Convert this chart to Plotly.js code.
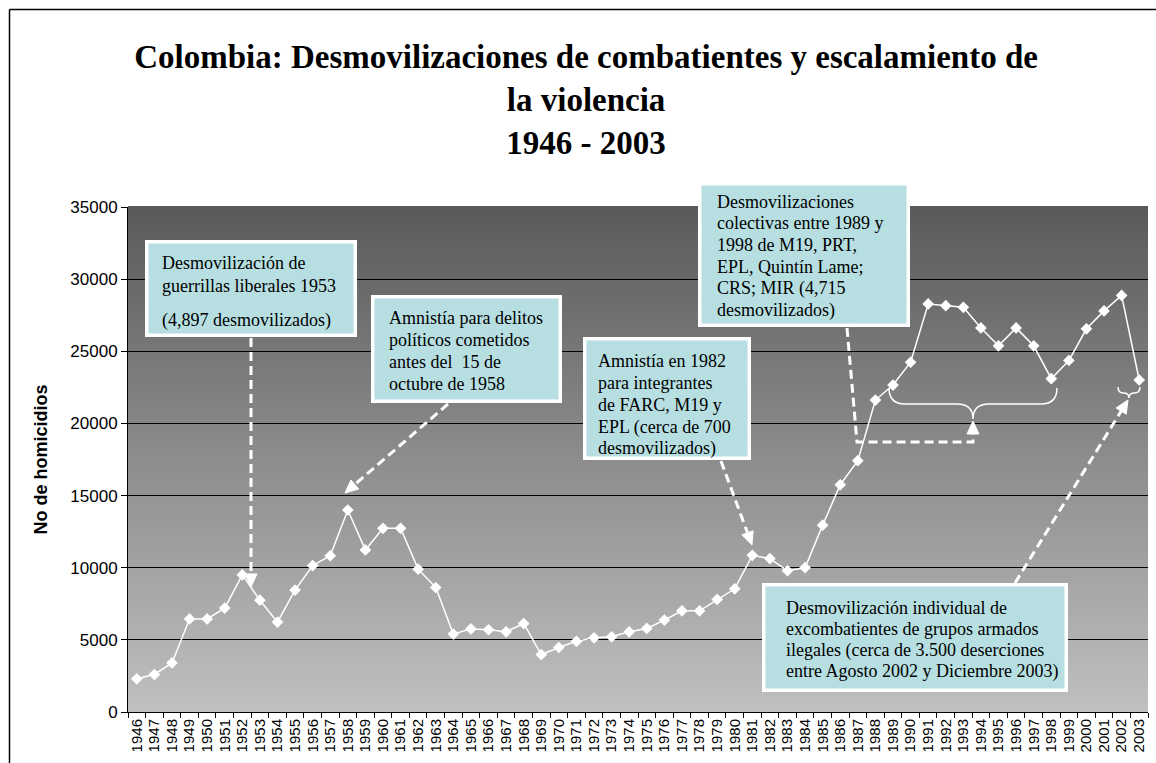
<!DOCTYPE html>
<html><head><meta charset="utf-8">
<script src="https://cdn.plot.ly/plotly-3.0.1.min.js"></script>
<style>body{margin:0;background:#fff}#chart{width:1156px;height:763px}</style>
</head><body><div id="chart"></div>
<script>
// ---- data ----
const years = ["1946","1947","1948","1949","1950","1951","1952","1953","1954","1955",
"1956","1957","1958","1959","1960","1961","1962","1963","1964","1965",
"1966","1967","1968","1969","1970","1971","1972","1973","1974","1975",
"1976","1977","1978","1979","1980","1981","1982","1983","1984","1985",
"1986","1987","1988","1989","1990","1991","1992","1993","1994","1995",
"1996","1997","1998","1999","2000","2001","2002","2003"];
const homicidios = [2300,2600,3400,6450,6450,7200,9500,7750,6230,8450,
10150,10830,14000,11230,12730,12730,9900,8630,5400,5760,
5700,5560,6130,3980,4470,4900,5140,5210,5560,5790,
6370,7010,7010,7800,8540,10860,10630,9790,10000,12950,
15750,17420,21620,22660,24240,28280,28160,28050,26620,25380,
26620,25380,23100,24360,26560,27800,28870,23010];
const yTicks = [0,5000,10000,15000,20000,25000,30000,35000];
const titleText = "Colombia: Desmovilizaciones de combatientes y escalamiento de<br>la violencia<br>1946 - 2003";
const yTitle = "No de homicidios";
const notes = [
  ["Desmovilización de","guerrillas liberales 1953","(4,897 desmovilizados)"],
  ["Amnistía para delitos","políticos cometidos","antes del  15 de","octubre de 1958"],
  ["Amnistía en 1982","para integrantes","de FARC, M19 y","EPL (cerca de 700","desmovilizados)"],
  ["Desmovilizaciones","colectivas entre 1989 y","1998 de M19, PRT,","EPL, Quintín Lame;","CRS; MIR (4,715","desmovilizados)"],
  ["Desmovilización individual de","excombatientes de grupos armados","ilegales (cerca de 3.500 deserciones","entre Agosto 2002 y Diciembre 2003)"]
];

// ---- layout geometry (pixels) ----
const W = 1156, H = 763, ML = 128, MR = 8, MT = 207, MB = 51;
const PW = W - ML - MR, PH = H - MT - MB;
const px = v => (v - ML) / PW;
const py = v => (H - MB - v) / PH;
const P = (x, y) => px(x).toFixed(5) + "," + py(y).toFixed(5);

const shapes = [];
// gradient background
const N = 120;
for (let i = 0; i < N; i++) {
  const f = (i + 0.5) / N;
  const c = Math.round(192 - 102 * f);
  shapes.push({type:"rect", xref:"paper", yref:"paper", x0:0, x1:1, y0:i/N, y1:(i+1)/N + 0.002,
    fillcolor:`rgb(${c},${c},${c})`, line:{width:0}, layer:"below"});
}
// page frame
shapes.push({type:"line", xref:"paper", yref:"paper", x0:px(9.5), x1:px(1160), y0:py(9.5), y1:py(9.5), line:{color:"#000", width:1.5}});
shapes.push({type:"line", xref:"paper", yref:"paper", x0:px(9.5), x1:px(9.5), y0:py(9.5), y1:py(770), line:{color:"#000", width:1.5}});

// annotation boxes
const boxGeom = [
  {b:[145,240,357,337], tx:160, ly:[263,286,320]},
  {b:[371,295,562,403], tx:387, ly:[318,340,362,384]},
  {b:[583,337,751,460], tx:596, ly:[361,383,405,427,448]},
  {b:[698,182,910,327], tx:715, ly:[202,223,245,267,288,310]},
  {b:[762,583,1068,692], tx:784, ly:[608,629,650,671]}
];
const annotations = [];
boxGeom.forEach((g, k) => {
  const [x0,y0,x1,y1] = g.b;
  shapes.push({type:"rect", xref:"paper", yref:"paper", x0:px(x0+1.75), x1:px(x1-1.75), y0:py(y1-1.75), y1:py(y0+1.75),
    fillcolor:"#b7dfe2", line:{color:"#ffffff", width:3.5}});
  notes[k].forEach((t, j) => {
    annotations.push({xref:"paper", yref:"paper", x:px(g.tx), y:py(g.ly[j]), xanchor:"left", yanchor:"middle",
      text:t, showarrow:false, align:"left",
      font:{family:"Liberation Serif, Times New Roman, serif", size:18, color:"#000"}});
  });
});

// dashed arrows
function dashedArrow(pts) {
  const n = pts.length;
  const tip = pts[n-1], prev = pts[n-2];
  const dx = tip[0]-prev[0], dy = tip[1]-prev[1], len = Math.hypot(dx, dy);
  const ux = dx/len, uy = dy/len, L = 13, Wd = 6;
  const base = [tip[0]-ux*L, tip[1]-uy*L];
  let d = "M" + P(pts[0][0], pts[0][1]);
  for (let i = 1; i < n-1; i++) d += " L" + P(pts[i][0], pts[i][1]);
  d += " L" + P(base[0], base[1]);
  shapes.push({type:"path", xref:"paper", yref:"paper", path:d, line:{color:"#ffffff", width:3, dash:"9px,5px"}});
  const a = [base[0]-uy*Wd, base[1]+ux*Wd], b = [base[0]+uy*Wd, base[1]-ux*Wd];
  shapes.push({type:"path", xref:"paper", yref:"paper",
    path:"M"+P(tip[0],tip[1])+" L"+P(a[0],a[1])+" L"+P(b[0],b[1])+" Z",
    fillcolor:"#ffffff", line:{color:"#ffffff", width:1}});
}
dashedArrow([[251,338],[251,587]]);
dashedArrow([[448,404],[345,493]]);
dashedArrow([[721,461],[752,545]]);
dashedArrow([[847,328],[857,442],[973,442],[973,421]]);
dashedArrow([[1015,583],[1128,400]]);

// braces
function brace(xl, xr, yEnd, yH, yTip) {
  const xm = (xl + xr) / 2, r = Math.min(16, (xm - xl) / 2);
  const d = "M" + P(xl, yEnd) + " Q" + P(xl, yH) + " " + P(xl + r, yH) +
    " L" + P(xm - r, yH) + " Q" + P(xm, yH) + " " + P(xm, yTip) +
    " Q" + P(xm, yH) + " " + P(xm + r, yH) +
    " L" + P(xr - r, yH) + " Q" + P(xr, yH) + " " + P(xr, yEnd);
  shapes.push({type:"path", xref:"paper", yref:"paper", path:d, line:{color:"#ffffff", width:1.5}});
}
brace(889, 1057, 388, 404, 419);
brace(1118, 1140, 387, 393, 398);

const trace = {
  x: years, y: homicidios, type:"scatter", mode:"lines+markers",
  line:{color:"#ffffff", width:1.5},
  marker:{symbol:"diamond", size:9, color:"#ffffff"},
  hoverinfo:"x+y"
};

const layout = {
  width:W, height:H,
  margin:{l:ML, r:MR, t:MT, b:MB, pad:0},
  paper_bgcolor:"#ffffff", plot_bgcolor:"rgba(0,0,0,0)",
  showlegend:false,
  title:{text:titleText, xref:"container", yref:"container", x:0.507, xanchor:"center",
    y:1 - 68/H, yanchor:"top",
    font:{family:"Liberation Serif, Times New Roman, serif", size:33, color:"#000", weight:"bold"}},
  xaxis:{type:"category", range:[-0.5, 57.5], tickmode:"array", tickvals:years, ticktext:years,
    tickson:"boundaries", ticks:"outside", ticklen:5,
    tickcolor:"#000", showline:true, linecolor:"#000", linewidth:1, showgrid:false, zeroline:false,
    tickangle:-90, tickfont:{family:"Liberation Sans, Arial, sans-serif", size:15, color:"#000"},
    automargin:false, fixedrange:true},
  yaxis:{range:[0, 35000], tickvals:yTicks, ticktext:yTicks.map(String), ticks:"outside", ticklen:6,
    tickcolor:"#000", showline:true, linecolor:"#000", linewidth:1, showgrid:true, gridcolor:"#000", gridwidth:1,
    zeroline:false, tickfont:{family:"Liberation Sans, Arial, sans-serif", size:17, color:"#000"},
    title:{text:yTitle, standoff:18, font:{family:"Liberation Sans, Arial, sans-serif", size:18, color:"#000", weight:"bold"}},
    automargin:false, fixedrange:true},
  shapes:shapes,
  annotations:annotations
};

Plotly.newPlot("chart", [trace], layout, {displayModeBar:false, staticPlot:true});
</script></body></html>
